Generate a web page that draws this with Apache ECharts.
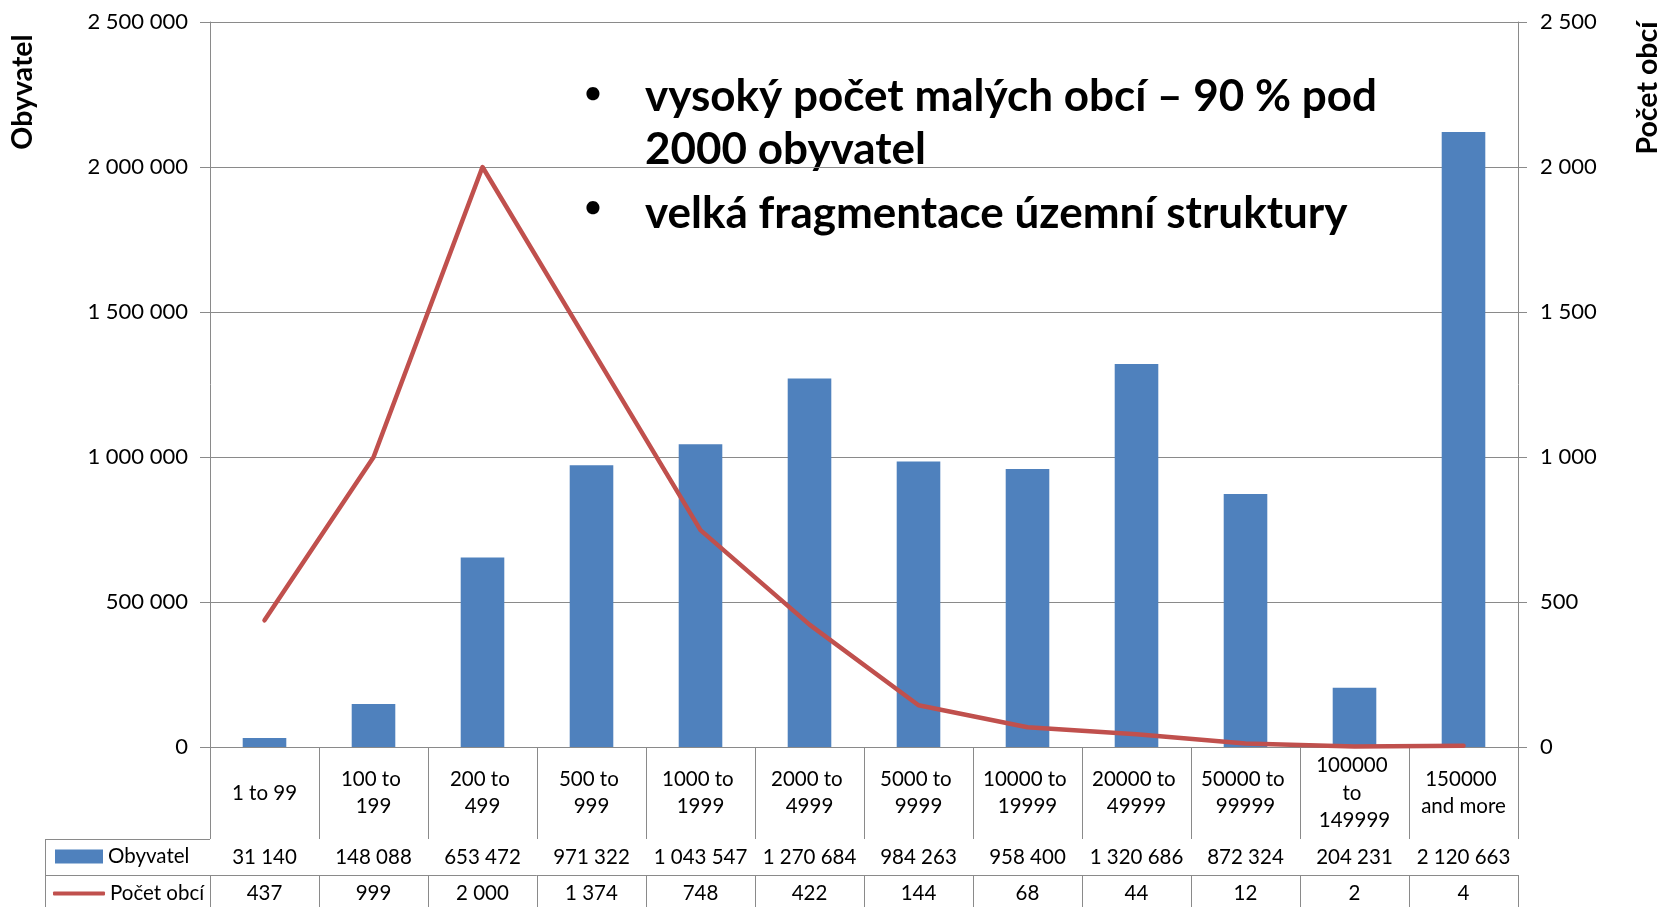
<!DOCTYPE html>
<html>
<head>
<meta charset="utf-8">
<script src="https://cdn.jsdelivr.net/npm/echarts@6/dist/echarts.min.js"></script>
<style>
html,body{margin:0;padding:0;background:#fff;}
#chart{width:1661px;height:907px;}
</style>
</head>
<body>
<div id="chart"></div>
<script>
const categories = ['1 to 99','100 to 199','200 to 499','500 to 999','1000 to 1999','2000 to 4999','5000 to 9999','10000 to 19999','20000 to 49999','50000 to 99999','100000 to 149999','150000 and more'];
const obyvatel = [31140,148088,653472,971322,1043547,1270684,984263,958400,1320686,872324,204231,2120663];
const pocetObci = [437,999,2000,1374,748,422,144,68,44,12,2,4];
const seriesNames = ['Obyvatel','Počet obcí'];
const bulletLines = ['vysoký počet malých obcí – 90 % pod','2000 obyvatel','velká fragmentace územní struktury'];

const fmt = v => String(v).replace(/\B(?=(\d{3})+(?!\d))/g, ' ');
const FONT = 'Lato';
const GRID = '#8a8a8a';
const BLUE = '#4F81BD';
const RED = '#C0504D';

const chart = echarts.init(document.getElementById('chart'), null, {renderer:'canvas'});

const tableAxis = (data, offset, tickLen, margin, width) => ({
  type:'category', position:'bottom', data:data, offset:offset,
  axisLine:{show:true, lineStyle:{color:GRID, width:1}},
  axisTick:{show:true, length:tickLen, lineStyle:{color:GRID, width:1}},
  axisLabel:{show:true, margin:margin, verticalAlign:'middle', fontFamily:FONT, fontSize:20.5, color:'#000', interval:0,
    width:width, overflow:'break', lineHeight:27.5, align:'center'},
  splitLine:{show:false}
});

const legendBase = {
  orient:'horizontal', padding:0, selectedMode:false,
  textStyle:{fontFamily:FONT, fontSize:20.5, color:'#000', lineHeight:20}
};

chart.setOption({
  animation:false,
  backgroundColor:'#fff',
  grid:{left:210, right:143, top:22, bottom:160, containLabel:false},
  legend:[
    Object.assign({}, legendBase, {left:55, top:846, itemWidth:48, itemHeight:14,
      data:[{name:seriesNames[0], icon:'rect'}]}),
    Object.assign({}, legendBase, {left:53, top:883, itemWidth:52, itemHeight:4,
      data:[{name:seriesNames[1], icon:'roundRect'}]})
  ],
  xAxis:[
    tableAxis(categories, 0, 92, 46, 90),
    tableAxis(obyvatel.map(fmt), 92, 36, 18, 108),
    tableAxis(pocetObci.map(fmt), 128, 40, 18, 108)
  ],
  yAxis:[
    {type:'value', min:0, max:2500000, interval:500000, position:'left',
      axisLine:{show:true, lineStyle:{color:GRID}},
      axisTick:{show:true, length:10, lineStyle:{color:GRID}},
      axisLabel:{margin:22, fontFamily:FONT, fontSize:22, color:'#000', formatter:fmt},
      splitLine:{show:true, lineStyle:{color:GRID, width:1}}},
    {type:'value', min:0, max:2500, interval:500, position:'right',
      axisLine:{show:true, lineStyle:{color:GRID}},
      axisTick:{show:true, length:9, lineStyle:{color:GRID}},
      axisLabel:{margin:22, fontFamily:FONT, fontSize:22, color:'#000', formatter:fmt},
      splitLine:{show:false}}
  ],
  series:[
    {name:seriesNames[0], type:'bar', xAxisIndex:0, yAxisIndex:0, data:obyvatel, barWidth:'40%',
      itemStyle:{color:BLUE}},
    {name:seriesNames[1], type:'line', xAxisIndex:0, yAxisIndex:1, data:pocetObci, symbol:'none',
      lineStyle:{color:RED, width:4.5, cap:'round', join:'round'}, itemStyle:{color:RED}}
  ],
  graphic:[
    {type:'line', shape:{x1:45,y1:839.5,x2:210,y2:839.5}, style:{stroke:GRID, lineWidth:1}},
    {type:'line', shape:{x1:45,y1:875.5,x2:210,y2:875.5}, style:{stroke:GRID, lineWidth:1}},
    {type:'line', shape:{x1:45.5,y1:839,x2:45.5,y2:907}, style:{stroke:GRID, lineWidth:1}},
    {type:'text', x:23, y:92, rotation:Math.PI/2,
      style:{text:'Obyvatel', font:'bold 28.5px Lato', fill:'#000', align:'center', verticalAlign:'middle'}},
    {type:'text', x:1648, y:88, rotation:Math.PI/2,
      style:{text:'Počet obcí', font:'bold 28.5px Lato', fill:'#000', align:'center', verticalAlign:'middle'}},
    {type:'text', x:593, y:93, style:{text:'•', font:'bold 30px Lato', fill:'#000', align:'center', verticalAlign:'middle'}},
    {type:'text', x:645, y:75, style:{text:bulletLines[0], font:'bold 44px Lato', fill:'#000', align:'left', verticalAlign:'top'}},
    {type:'text', x:645, y:128, style:{text:bulletLines[1], font:'bold 44px Lato', fill:'#000', align:'left', verticalAlign:'top'}},
    {type:'text', x:593, y:207, style:{text:'•', font:'bold 30px Lato', fill:'#000', align:'center', verticalAlign:'middle'}},
    {type:'text', x:645, y:192, style:{text:bulletLines[2], font:'bold 44px Lato', fill:'#000', align:'left', verticalAlign:'top'}}
  ]
});
</script>
</body>
</html>
